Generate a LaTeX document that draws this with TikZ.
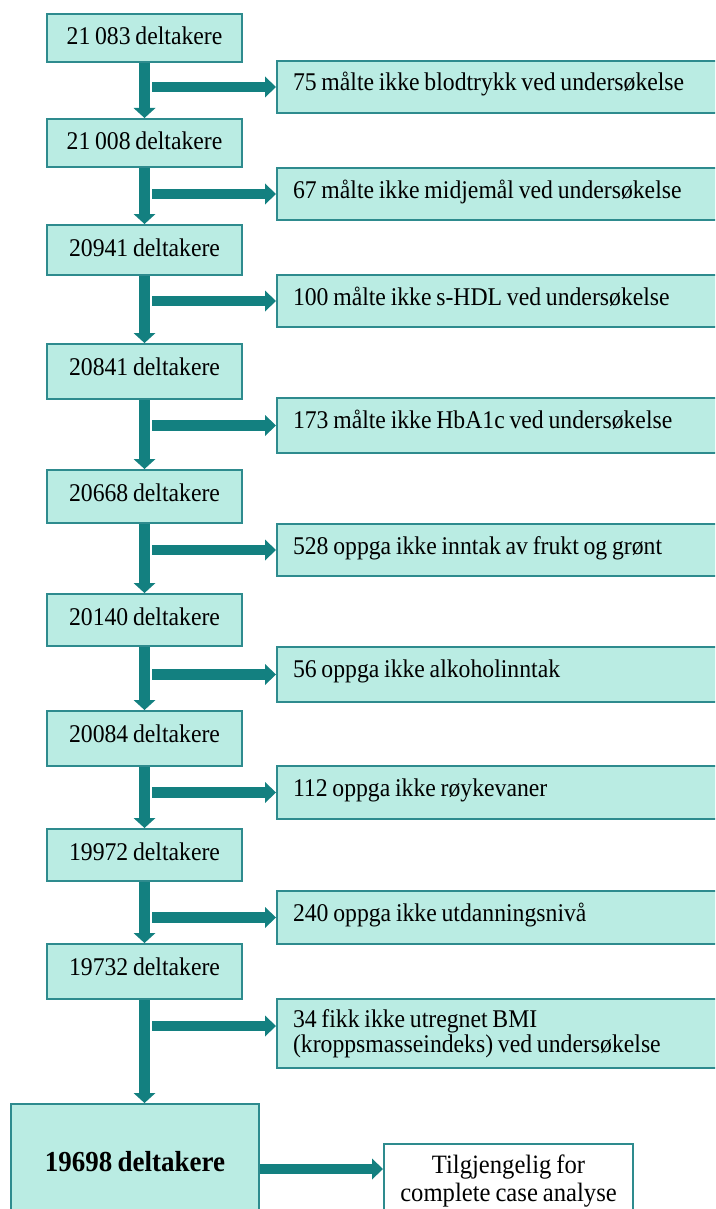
\documentclass[tikz,border=0pt]{standalone}
\usepackage{fontspec}
\setmainfont{Liberation Serif}[FakeStretch=0.93,WordSpace=0.8]
\usetikzlibrary{arrows.meta,calc}
\definecolor{boxfill}{RGB}{186,236,227}
\definecolor{boxline}{RGB}{46,139,142}
\definecolor{arrowc}{RGB}{19,128,128}
\newcommand\mystrut[2]{\rule[-#2]{0pt}{\dimexpr#1+#2\relax}}
\begin{document}
\begin{tikzpicture}[x=1pt,y=-1pt,
  font=\fontsize{25.5}{25}\selectfont,
  lbox/.style={draw=boxline, fill=boxfill, line width=2pt, rectangle, anchor=north west,
    minimum width=195pt, inner xsep=0pt, inner ysep=0pt},
  rbox/.style={draw=boxline, fill=boxfill, line width=2pt, rectangle, anchor=north west,
    text width=454pt, inner xsep=16pt, inner ysep=0pt, align=flush left},
  varrow/.style={draw=arrowc, line width=10.5pt,
    -{Triangle[width=22pt,length=10pt,line width=0pt]}},
  harrow/.style={draw=arrowc, line width=10.5pt,
    -{Triangle[width=21pt,length=11pt,line width=0pt]}}
]
\useasboundingbox (0,0) rectangle (715,1209);
\clip (0,0) rectangle (715,1209);

% left column
\node[lbox] (b1) at (46,13)  {\mystrut{31pt}{17pt}21 083 deltakere};
\node[lbox] (b2) at (46,118) {\mystrut{31pt}{17pt}21 008 deltakere};
\node[lbox] (b3) at (46,224) {\mystrut{31pt}{19pt}20941 deltakere};
\node[lbox] (b4) at (46,343) {\mystrut{31pt}{24pt}20841 deltakere};
\node[lbox] (b5) at (46,469) {\mystrut{31pt}{22pt}20668 deltakere};
\node[lbox] (b6) at (46,593) {\mystrut{31pt}{21pt}20140 deltakere};
\node[lbox] (b7) at (46,710) {\mystrut{31pt}{24pt}20084 deltakere};
\node[lbox] (b8) at (46,828) {\mystrut{31pt}{21pt}19972 deltakere};
\node[lbox] (b9) at (46,943) {\mystrut{31pt}{24pt}19732 deltakere};

% right column
\node[rbox] (r1) at (276,60)  {\mystrut{30pt}{22pt}75 målte ikke blodtrykk ved undersøkelse};
\node[rbox] (r2) at (276,167) {\mystrut{30pt}{22pt}67 målte ikke midjemål ved undersøkelse};
\node[rbox] (r3) at (276,274) {\mystrut{30pt}{22pt}100 målte ikke s-HDL ved undersøkelse};
\node[rbox] (r4) at (276,397) {\mystrut{30pt}{25pt}173 målte ikke HbA1c ved undersøkelse};
\node[rbox] (r5) at (276,523) {\mystrut{30pt}{22pt}528 oppga ikke inntak av frukt og grønt};
\node[rbox] (r6) at (276,646) {\mystrut{30pt}{25pt}56 oppga ikke alkoholinntak};
\node[rbox] (r7) at (276,765) {\mystrut{30pt}{23pt}112 oppga ikke røykevaner};
\node[rbox] (r8) at (276,890) {\mystrut{30pt}{23pt}240 oppga ikke utdanningsnivå};
\node[rbox] (r9) at (276,998) {\mystrut{28pt}{0pt}34 fikk ikke utregnet BMI\\(kroppsmasseindeks) ved undersøkelse\mystrut{0pt}{16pt}};

% final
\node[lbox, minimum width=248pt] (fin) at (10,1103)
  {\bfseries\fontsize{29}{30}\selectfont\mystrut{67pt}{60pt}19698 deltakere};
\node[draw=boxline, fill=white, line width=2pt, rectangle, anchor=north west,
  text width=249pt, inner xsep=0pt, inner ysep=0pt, align=flush center,
  font=\fontsize{26.5}{28}\selectfont] (tg) at (383,1143)
  {\mystrut{29pt}{0pt}Tilgjengelig for\\complete case analyse\mystrut{0pt}{40pt}};

% vertical arrows
\draw[varrow] (b1.south) -- (b2.north);
\draw[varrow] (b2.south) -- (b3.north);
\draw[varrow] (b3.south) -- (b4.north);
\draw[varrow] (b4.south) -- (b5.north);
\draw[varrow] (b5.south) -- (b6.north);
\draw[varrow] (b6.south) -- (b7.north);
\draw[varrow] (b7.south) -- (b8.north);
\draw[varrow] (b8.south) -- (b9.north);
\draw[varrow] (b9.south) -- (b9.south |- fin.north);

% horizontal arrows
\coordinate (tap) at (152,0);
\foreach \r in {r1,r2,r3,r4,r5,r6,r7,r8}{
  \draw[harrow] (\r.west -| tap) -- (\r.west);
}
\coordinate (r9in) at ([yshift=7.5pt]r9.west);
\draw[harrow] (r9in -| tap) -- (r9in);
\path (tg.north west) ++(0,26) coordinate (tgin);
\draw[harrow] (tgin -| fin.east) -- (tgin);
\end{tikzpicture}
\end{document}
